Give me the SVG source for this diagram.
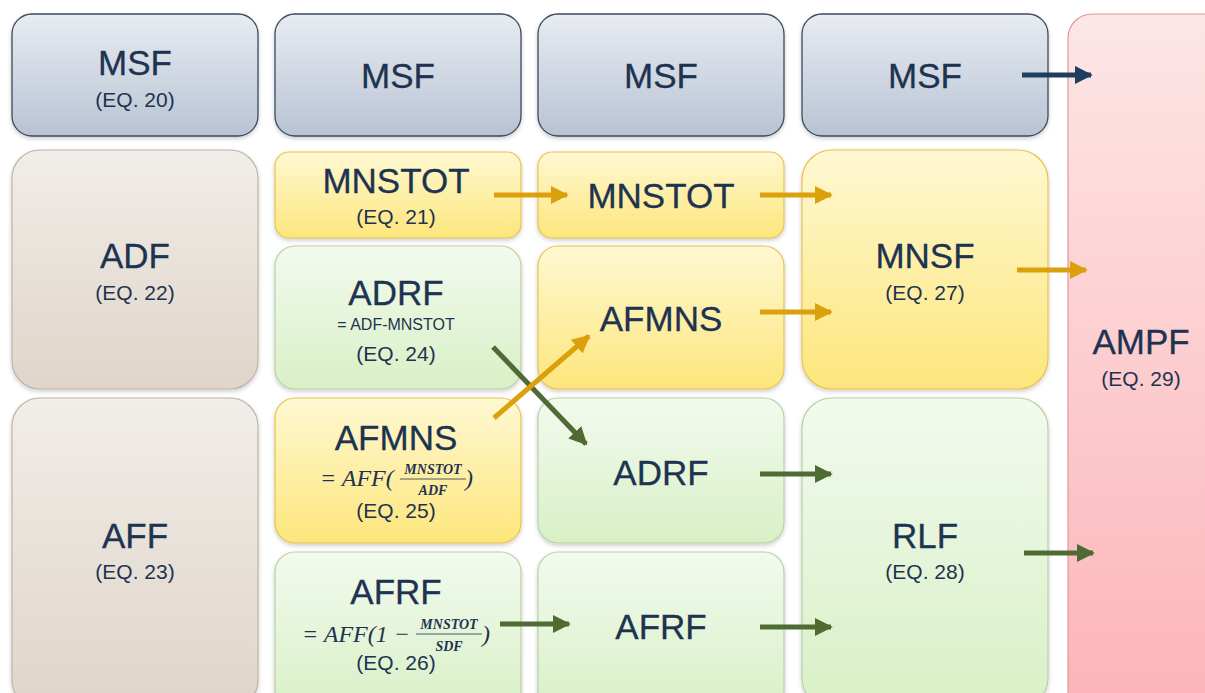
<svg xmlns="http://www.w3.org/2000/svg" width="1205" height="693" viewBox="0 0 1205 693">
<defs>
<linearGradient id="gBlue" x1="0" y1="0" x2="0" y2="1"><stop offset="0" stop-color="#e8ecf2"/><stop offset="1" stop-color="#b8c3d3"/></linearGradient>
<linearGradient id="gBeige" x1="0" y1="0" x2="0" y2="1"><stop offset="0" stop-color="#f1ede8"/><stop offset="1" stop-color="#dfd5ca"/></linearGradient>
<linearGradient id="gYel" x1="0" y1="0" x2="0" y2="1"><stop offset="0" stop-color="#fef8d2"/><stop offset="1" stop-color="#fde67c"/></linearGradient>
<linearGradient id="gGrn" x1="0" y1="0" x2="0" y2="1"><stop offset="0" stop-color="#f2faee"/><stop offset="1" stop-color="#d8f0c6"/></linearGradient>
<linearGradient id="gRed" x1="0" y1="0" x2="0" y2="1"><stop offset="0" stop-color="#fde6e6"/><stop offset="1" stop-color="#fcb4b8"/></linearGradient>
<filter id="sh" x="-10%" y="-10%" width="120%" height="120%"><feDropShadow dx="0" dy="2" stdDeviation="2" flood-color="#000" flood-opacity="0.2"/></filter>
<marker id="aN" viewBox="0 0 10 10" refX="9" refY="5" markerWidth="3.6" markerHeight="3.6" orient="auto" markerUnits="strokeWidth"><path d="M0,0 L10,5 L0,10 z" fill="#1f3c62"/></marker>
<marker id="aO" viewBox="0 0 10 10" refX="9" refY="5" markerWidth="3.6" markerHeight="3.6" orient="auto" markerUnits="strokeWidth"><path d="M0,0 L10,5 L0,10 z" fill="#dca00c"/></marker>
<marker id="aG" viewBox="0 0 10 10" refX="9" refY="5" markerWidth="3.6" markerHeight="3.6" orient="auto" markerUnits="strokeWidth"><path d="M0,0 L10,5 L0,10 z" fill="#4f6a32"/></marker>
</defs>
<style>
.blue{fill:url(#gBlue);stroke:#3c4a5e;stroke-width:1.3;filter:url(#sh)}
.beige{fill:url(#gBeige);stroke:#bfb3a6;stroke-width:1.2;filter:url(#sh)}
.yel{fill:url(#gYel);stroke:#e6c250;stroke-width:1.2;filter:url(#sh)}
.grn{fill:url(#gGrn);stroke:#b9cfa8;stroke-width:1.2;filter:url(#sh)}
.red{fill:url(#gRed);stroke:#dc9a9a;stroke-width:1.2}
.t{font-family:"Liberation Sans",Arial,sans-serif;font-size:35px;fill:#1d3350;stroke:#1d3350;stroke-width:0.3;text-anchor:middle}
.s{font-family:"Liberation Sans",Arial,sans-serif;font-size:21px;fill:#1d3350;text-anchor:middle}
.f{font-family:"Liberation Sans",Arial,sans-serif;font-size:16px;fill:#1d3350;text-anchor:middle}
.m{font-family:"Liberation Serif","Times New Roman",serif;font-style:italic;font-size:24px;fill:#1d3350}
.mf{font-family:"Liberation Serif","Times New Roman",serif;font-style:italic;font-weight:bold;font-size:14px;fill:#1d3350;text-anchor:middle}
.cN{stroke:#1f3c62;stroke-width:5;fill:none;marker-end:url(#aN)}
.cO{stroke:#dca00c;stroke-width:5;fill:none;marker-end:url(#aO)}
.cG{stroke:#4f6a32;stroke-width:5;fill:none;marker-end:url(#aG)}
</style>

<g id="ampf"><rect class="red" x="1068" y="14" width="170" height="700" rx="24"/><text class="t" x="1141" y="354">AMPF</text><text class="s" x="1141" y="386">(EQ. 29)</text></g>

<g id="msf20"><rect class="blue" x="12" y="14" width="246" height="122" rx="20"/><text class="t" x="135" y="75">MSF</text><text class="s" x="135" y="107">(EQ. 20)</text></g>
<g id="msf2"><rect class="blue" x="275" y="14" width="246" height="122" rx="20"/><text class="t" x="398" y="88">MSF</text></g>
<g id="msf3"><rect class="blue" x="538" y="14" width="246" height="122" rx="20"/><text class="t" x="661" y="88">MSF</text></g>
<g id="msf4"><rect class="blue" x="802" y="14" width="246" height="122" rx="20"/><text class="t" x="925" y="88">MSF</text></g>

<g id="adf"><rect class="beige" x="12" y="150" width="246" height="239" rx="28"/><text class="t" x="135" y="268">ADF</text><text class="s" x="135" y="300">(EQ. 22)</text></g>
<g id="aff"><rect class="beige" x="12" y="398" width="246" height="310" rx="28"/><text class="t" x="135" y="548">AFF</text><text class="s" x="135" y="579">(EQ. 23)</text></g>

<g id="mnstot1"><rect class="yel" x="275" y="152" width="246" height="86" rx="14"/><text class="t" x="396" y="193">MNSTOT</text><text class="s" x="396" y="224">(EQ. 21)</text></g>
<g id="adrf1"><rect class="grn" x="275" y="246" width="246" height="143" rx="20"/><text class="t" x="396" y="305">ADRF</text><text class="f" x="396" y="330">= ADF-MNSTOT</text><text class="s" x="396" y="361">(EQ. 24)</text></g>
<g id="afmns1"><rect class="yel" x="275" y="398" width="246" height="145" rx="20"/><text class="t" x="396" y="450">AFMNS</text>
<text class="m" x="320" y="486">= AFF(</text><text class="mf" x="433" y="474">MNSTOT</text><line x1="400" y1="479" x2="466" y2="479" stroke="#1d3350" stroke-width="0.8"/><text class="mf" x="433" y="495">ADF</text><text class="m" x="465" y="486">)</text>
<text class="s" x="396" y="518">(EQ. 25)</text></g>
<g id="afrf1"><rect class="grn" x="275" y="552" width="246" height="160" rx="20"/><text class="t" x="396" y="604">AFRF</text>
<text class="m" x="302" y="642">= AFF(1 −</text><text class="mf" x="449" y="629">MNSTOT</text><line x1="416" y1="634" x2="482" y2="634" stroke="#1d3350" stroke-width="0.8"/><text class="mf" x="449" y="651">SDF</text><text class="m" x="482" y="642">)</text>
<text class="s" x="396" y="670">(EQ. 26)</text></g>

<g id="mnstot2"><rect class="yel" x="538" y="152" width="246" height="86" rx="14"/><text class="t" x="661" y="208">MNSTOT</text></g>
<g id="afmns2"><rect class="yel" x="538" y="246" width="246" height="143" rx="20"/><text class="t" x="661" y="331">AFMNS</text></g>
<g id="adrf2"><rect class="grn" x="538" y="398" width="246" height="145" rx="20"/><text class="t" x="661" y="485">ADRF</text></g>
<g id="afrf2"><rect class="grn" x="538" y="552" width="246" height="160" rx="20"/><text class="t" x="661" y="639">AFRF</text></g>

<g id="mnsf"><rect class="yel" x="802" y="150" width="246" height="239" rx="30"/><text class="t" x="925" y="268">MNSF</text><text class="s" x="925" y="300">(EQ. 27)</text></g>
<g id="rlf"><rect class="grn" x="802" y="398" width="246" height="310" rx="30"/><text class="t" x="925" y="548">RLF</text><text class="s" x="925" y="579">(EQ. 28)</text></g>

<g id="connectors">
<line class="cN" x1="1022" y1="75" x2="1091" y2="75"/>
<line class="cO" x1="494" y1="195" x2="567" y2="195"/>
<line class="cO" x1="760" y1="195" x2="831" y2="195"/>
<line class="cO" x1="760" y1="312" x2="831" y2="312"/>
<line class="cO" x1="1017" y1="270" x2="1086" y2="270"/>
<line class="cG" x1="493" y1="347" x2="586" y2="444"/>
<line class="cO" x1="494" y1="418" x2="589" y2="336"/>
<line class="cG" x1="760" y1="474" x2="831" y2="474"/>
<line class="cG" x1="500" y1="624" x2="569" y2="624"/>
<line class="cG" x1="760" y1="627" x2="831" y2="627"/>
<line class="cG" x1="1024" y1="553" x2="1093" y2="553"/>
</g>
</svg>
